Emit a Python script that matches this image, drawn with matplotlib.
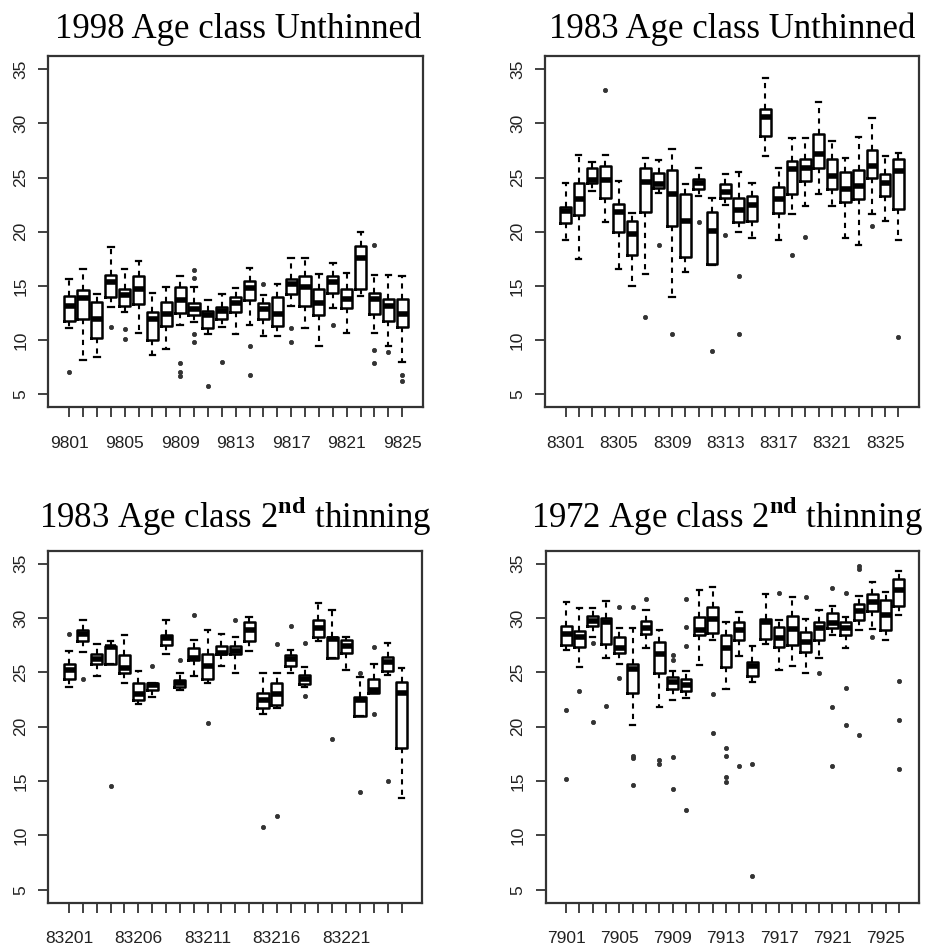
import matplotlib
matplotlib.use('Agg')
import matplotlib.pyplot as plt

plt.rcParams['font.family'] = ['Liberation Sans', 'DejaVu Sans']
plt.rcParams['mathtext.fontset'] = 'custom'
plt.rcParams['mathtext.rm'] = 'Liberation Serif'
plt.rcParams['mathtext.bf'] = 'Liberation Serif:bold'

# ---------------- Panel 1: 1998 Age class Unthinned ----------------
p1_labels = ['98%02d' % i for i in range(1, 26)]
p1_shown = ['9801', '9805', '9809', '9813', '9817', '9821', '9825']
p1_lo = [11.1, 8.2, 8.5, 13.05, 12.6, 10.7, 8.6, 9.2, 11.4, 11.7, 10.6, 11.2, 10.6,
         11.4, 10.4, 10.4, 13.2, 11.1, 9.5, 13.0, 10.7, 14.1, 10.7, 9.5, 8.0]
p1_q1 = [11.8, 12.0, 10.2, 14.0, 13.2, 13.3, 10.0, 11.3, 12.5, 12.3, 11.1, 12.0, 12.6,
         13.7, 12.0, 11.3, 14.3, 13.2, 12.3, 14.4, 13.0, 14.7, 12.4, 11.8, 11.2]
p1_med = [13.2, 13.9, 12.0, 15.35, 14.2, 14.7, 12.0, 12.4, 13.7, 12.9, 12.3, 12.7, 13.4,
          14.8, 12.9, 12.4, 15.2, 14.9, 13.4, 15.4, 13.8, 17.6, 13.8, 13.2, 12.4]
p1_q3 = [14.1, 14.6, 13.5, 16.0, 14.7, 15.9, 12.6, 13.5, 14.9, 13.4, 12.7, 13.1, 14.0,
         15.5, 13.4, 14.0, 15.65, 15.9, 14.7, 15.9, 14.7, 18.7, 14.4, 13.8, 13.8]
p1_hi = [15.65, 16.6, 14.3, 18.6, 16.6, 17.3, 14.4, 14.9, 15.9, 14.9, 13.7, 14.3, 14.8,
         16.7, 14.2, 15.2, 17.6, 17.6, 16.1, 17.1, 16.2, 20.0, 16.0, 16.0, 15.9]
p1_out = [[7.1], [], [], [11.2], [11.05, 10.1], [], [], [], [7.9, 7.1, 6.7],
          [16.5, 15.7, 10.6, 9.8], [5.8], [8.0], [], [9.5, 6.8], [15.2], [],
          [11.1, 9.8], [], [], [11.4], [], [], [18.8, 9.1, 7.9], [8.9], [6.8, 6.2]]

# ---------------- Panel 2: 1983 Age class Unthinned ----------------
p2_labels = ['83%02d' % i for i in range(1, 27)]
p2_shown = ['8301', '8305', '8309', '8313', '8317', '8321', '8325']
p2_lo = [19.2, 17.5, 23.8, 20.9, 16.6, 15.0, 16.1, 23.6, 14.0, 16.3, 23.3, 16.9, 22.5,
         20.0, 19.4, 27.0, 19.2, 21.6, 22.4, 23.5, 22.4, 19.4, 18.8, 21.6, 21.0, 19.2]
p2_q1 = [20.8, 21.5, 24.5, 23.1, 20.0, 17.9, 21.8, 24.0, 20.5, 17.7, 23.9, 17.0, 23.1,
         20.9, 21.0, 28.8, 21.7, 23.5, 24.7, 25.9, 23.9, 22.7, 23.0, 25.0, 23.3, 22.1]
p2_med = [21.9, 23.0, 24.8, 24.8, 21.8, 19.8, 24.6, 24.4, 23.5, 21.0, 24.5, 20.1, 23.7,
          22.0, 22.5, 30.6, 23.0, 25.8, 25.9, 27.2, 25.1, 23.9, 24.2, 26.1, 24.5, 25.6]
p2_q3 = [22.3, 24.5, 25.9, 26.1, 22.6, 21.0, 25.9, 25.4, 25.7, 23.5, 24.9, 21.8, 24.4,
         23.1, 23.3, 31.3, 24.1, 26.5, 26.7, 29.0, 26.7, 25.5, 25.7, 27.5, 25.3, 26.7]
p2_hi = [24.5, 27.1, 26.4, 27.1, 24.7, 21.7, 26.8, 26.6, 27.6, 24.4, 25.9, 23.1, 25.3,
         25.5, 24.5, 34.2, 25.9, 28.6, 28.6, 32.0, 28.4, 26.8, 28.7, 30.5, 27.0, 27.3]
p2_out = [[], [], [], [33.1], [], [], [12.1], [18.8], [10.6], [], [20.9], [9.0], [19.7],
          [15.9, 10.6], [], [], [], [17.9], [19.5], [], [], [], [], [20.5], [], [10.3]]

# ---------------- Panel 3: 1983 Age class 2nd thinning ----------------
p3_labels = ['832%02d' % i for i in range(1, 26)]
p3_shown = ['83201', '83206', '83211', '83216', '83221']
p3_lo = [23.7, 26.9, 24.7, 25.8, 24.0, 22.1, 22.75, 26.7, 23.4, 24.7, 24.0, 25.6, 24.95,
         27.0, 21.2, 21.7, 24.95, 23.7, 27.9, 26.3, 25.2, 21.0, 23.1, 24.8, 13.4]
p3_q1 = [24.4, 27.9, 25.75, 25.8, 24.9, 22.45, 23.4, 27.5, 23.7, 26.1, 24.4, 26.7, 26.7,
         27.9, 21.7, 22.0, 25.6, 23.9, 28.3, 26.3, 26.8, 21.0, 23.1, 25.14, 18.0]
p3_med = [25.2, 28.5, 26.2, 27.3, 25.4, 23.0, 23.8, 28.2, 24.0, 26.3, 25.6, 26.8, 27.0,
          28.9, 22.5, 23.0, 26.2, 24.35, 29.1, 28.1, 27.4, 22.45, 23.4, 25.97, 23.06]
p3_q3 = [25.8, 28.9, 26.7, 27.4, 26.6, 24.0, 24.0, 28.4, 24.3, 27.2, 26.7, 27.4, 27.4,
         29.6, 23.06, 24.0, 26.6, 24.74, 29.8, 28.3, 27.96, 22.7, 24.4, 26.4, 24.1]
p3_hi = [27.0, 29.85, 27.6, 27.9, 28.4, 25.1, 24.0, 29.8, 24.9, 28.0, 28.9, 28.5, 28.3,
         30.1, 24.95, 24.95, 27.1, 25.5, 31.4, 30.7, 28.3, 24.6, 25.8, 27.7, 25.4]
p3_out = [[28.5], [24.4], [], [14.55], [], [], [25.6], [], [26.1], [30.3], [20.3], [],
          [29.85], [], [10.8], [27.6, 11.8], [29.3], [27.7, 22.8], [], [18.9], [],
          [24.9, 14.0], [27.3, 21.2], [15.0], []]

# ---------------- Panel 4: 1972 Age class 2nd thinning ----------------
p4_labels = ['79%02d' % i for i in range(1, 27)]
p4_shown = ['7901', '7905', '7909', '7913', '7917', '7921', '7925']
p4_lo = [27.04, 25.5, 28.3, 26.3, 25.8, 20.2, 27.2, 21.8, 22.45, 22.6, 25.7, 27.96, 23.5,
         26.5, 24.1, 27.65, 25.2, 25.57, 24.9, 26.3, 28.4, 27.2, 28.9, 29.0, 28.0, 30.25]
p4_q1 = [27.5, 27.35, 29.24, 27.65, 26.8, 23.06, 28.5, 24.9, 23.5, 23.3, 28.4, 28.6, 25.5,
         28.0, 24.7, 28.1, 27.35, 27.5, 26.9, 28.0, 29.1, 28.4, 29.8, 30.65, 28.9, 31.1]
p4_med = [28.5, 28.3, 29.7, 29.6, 27.2, 25.3, 29.1, 26.7, 24.1, 23.8, 28.9, 29.95, 27.2,
          28.9, 25.57, 29.64, 28.2, 29.0, 27.8, 29.1, 29.5, 29.1, 30.65, 31.5, 30.25, 32.55]
p4_q3 = [29.24, 28.8, 30.2, 30.04, 28.3, 25.75, 29.7, 27.8, 24.6, 24.35, 30.1, 31.0, 28.4,
         29.64, 25.97, 29.95, 29.2, 30.2, 28.7, 29.64, 30.5, 29.6, 31.3, 32.24, 31.7, 33.6]
p4_hi = [31.5, 30.9, 30.9, 31.6, 29.1, 29.1, 30.7, 28.9, 25.14, 25.1, 32.55, 32.86, 29.64,
         30.56, 27.4, 32.24, 29.8, 31.9, 29.95, 30.7, 31.1, 30.1, 32.0, 33.3, 32.4, 34.3]
p4_out = [[21.53, 15.16], [23.3], [27.7, 20.4], [21.9], [31.0, 24.5],
          [31.0, 17.3, 17.1, 14.65], [31.8], [16.9, 16.6], [26.6, 26.1, 17.25, 14.3],
          [31.8, 29.2, 27.4, 12.35], [], [23.0, 19.45], [18.0, 17.3, 15.35, 14.95],
          [16.4], [16.6, 6.3], [], [32.3], [], [31.9], [24.9], [32.8, 21.8, 16.4],
          [32.3, 23.6, 20.2], [34.75, 34.55, 19.2], [28.3], [], [24.2, 20.6, 16.1]]

titles = ['1998 Age class Unthinned',
          '1983 Age class Unthinned',
          r'1983 Age class 2$^{\mathbf{nd}}$ thinning',
          r'1972 Age class 2$^{\mathbf{nd}}$ thinning']
y_ticks = [5, 10, 15, 20, 25, 30, 35]

FRAME = '#333333'
W, H = 930, 947
fig = plt.figure(figsize=(W / 100, H / 100), dpi=100)


def panel(rect_px, labels, shown, lo, q1, med, q3, hi, out, title, title_pad, title_x):
    l, t, r, b = rect_px
    ax = fig.add_axes([l / W, 1 - b / H, (r - l) / W, (b - t) / H])
    stats = [dict(whislo=a, q1=c, med=d, q3=e, whishi=f, fliers=g, label=lab)
             for a, c, d, e, f, g, lab in zip(lo, q1, med, q3, hi, out, labels)]
    n = len(stats)
    pos = list(range(1, n + 1))
    ax.bxp(stats, positions=pos, widths=0.8, capwidths=0.4, showfliers=True,
           boxprops=dict(color='black', lw=1.8),
           medianprops=dict(color='black', lw=4.0, solid_capstyle='butt'),
           whiskerprops=dict(color='black', lw=1.5, ls=(0, (2.5, 2.5))),
           capprops=dict(color='black', lw=1.6),
           flierprops=dict(marker='o', ms=3.0, mfc='#333333', mec='#333333', mew=0.6))
    ax.set_xlim(0.5 - 0.04 * n, n + 0.5 + 0.04 * n)
    ax.set_ylim(3.8, 36.2)
    ax.set_xticks(pos)
    ax.set_xticklabels([lab if lab in shown else '' for lab in labels])
    ax.set_yticks(y_ticks)
    ax.set_yticklabels([str(v) for v in y_ticks], rotation=90, va='center')
    ax.tick_params(axis='both', direction='out', length=7.5, width=1.3,
                   color=FRAME, labelsize=12.5, labelcolor='#222222')
    ax.tick_params(axis='x', pad=13)
    ax.tick_params(axis='y', pad=7)
    for s in ax.spines.values():
        s.set_color(FRAME)
        s.set_linewidth(1.6)
    ax.set_title(title, fontfamily='Liberation Serif', fontsize=25, pad=title_pad,
                 x=title_x)
    return ax


panel((48.3, 56, 423, 407.5), p1_labels, p1_shown, p1_lo, p1_q1, p1_med, p1_q3,
      p1_hi, p1_out, titles[0], 13, 0.508)
panel((545, 56, 919, 407.5), p2_labels, p2_shown, p2_lo, p2_q1, p2_med, p2_q3,
      p2_hi, p2_out, titles[1], 13, 0.5)
panel((48.3, 550.7, 422.3, 902.7), p3_labels, p3_shown, p3_lo, p3_q1, p3_med, p3_q3,
      p3_hi, p3_out, titles[2], 16, 0.5)
panel((545.7, 550.7, 919.3, 902.7), p4_labels, p4_shown, p4_lo, p4_q1, p4_med, p4_q3,
      p4_hi, p4_out, titles[3], 16, 0.486)

fig.savefig('out.png', dpi=100, facecolor='white')
